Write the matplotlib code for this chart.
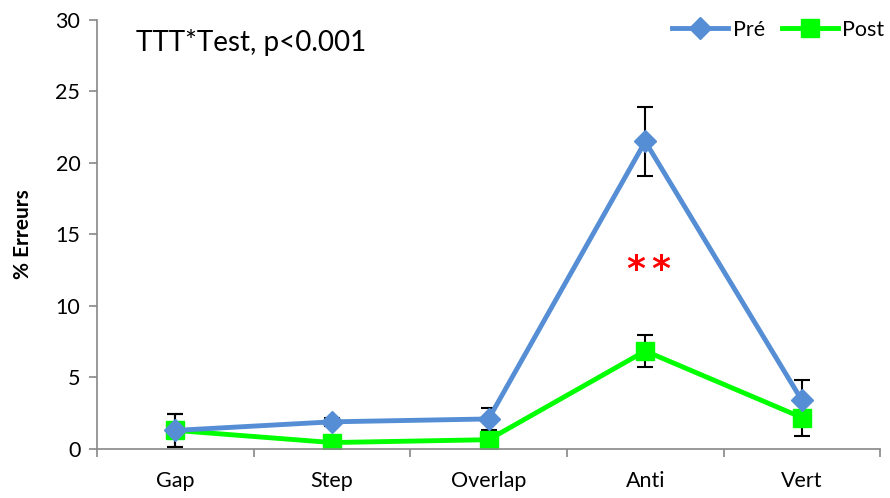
import numpy as np
import matplotlib.pyplot as plt
import matplotlib

matplotlib.rcParams['font.family'] = ['Lato', 'DejaVu Sans']

categories = ['Gap', 'Step', 'Overlap', 'Anti', 'Vert']
pre = [1.3, 1.9, 2.1, 21.5, 3.4]
pre_err = [1.15, 0.3, 0.8, 2.4, 1.4]
post = [1.3, 0.45, 0.65, 6.85, 2.2]
post_err = [1.15, 0.3, 0.3, 1.15, 1.3]

blue = '#558ED5'
green = '#00FF00'

fig = plt.figure(figsize=(8.9, 4.98), dpi=100)
ax = fig.add_axes([0.109, 0.0984, 0.88, 0.8616])
x = np.arange(len(categories))

ax.errorbar(x, pre, yerr=pre_err, fmt='none', ecolor='black', elinewidth=1.5,
            capsize=6, capthick=1.5, zorder=1)
ax.errorbar(x, post, yerr=post_err, fmt='none', ecolor='black', elinewidth=1.5,
            capsize=6, capthick=1.5, zorder=1)
ax.plot(x, pre, color=blue, lw=3.5, marker='D', ms=11, label='Pré', zorder=3)
ax.plot(x, post, color=green, lw=3.5, marker='s', ms=13, label='Post', zorder=2)

for sx in (2.94, 3.10):
    ax.text(sx, 12.5, '*', color='red', fontsize=26, ha='center', va='center',
            fontweight='bold', family='DejaVu Sans', clip_on=False)
ax.text(-0.25, 28.4, 'TTT*Test, p<0.001', fontsize=20, ha='left', va='center')

ax.set_xlim(-0.5, 4.5)
ax.set_ylim(0, 30)
ax.set_yticks(range(0, 31, 5))
ax.set_xticks(x)
ax.set_xticklabels(categories)
ax.set_xticks(np.arange(-0.5, 5, 1), minor=True)
ax.tick_params(axis='x', which='major', length=0, labelsize=15.5, pad=16)
ax.tick_params(axis='x', which='minor', length=6, color='#888888', width=1.2)
ax.tick_params(axis='y', length=6, color='#888888', width=1.2, labelsize=15.5, pad=6)
for s in ['top', 'right']:
    ax.spines[s].set_visible(False)
for s in ['left', 'bottom']:
    ax.spines[s].set_color('#888888')
    ax.spines[s].set_linewidth(1.2)
ax.set_ylabel('% Erreurs', fontsize=15, fontweight='bold', labelpad=16)

ax.legend(loc='upper right', bbox_to_anchor=(1.03, 1.045), ncol=2, frameon=False,
          fontsize=15.5, handlelength=2.6, columnspacing=0.8, handletextpad=0.2)

fig.savefig('out.png', dpi=100)
